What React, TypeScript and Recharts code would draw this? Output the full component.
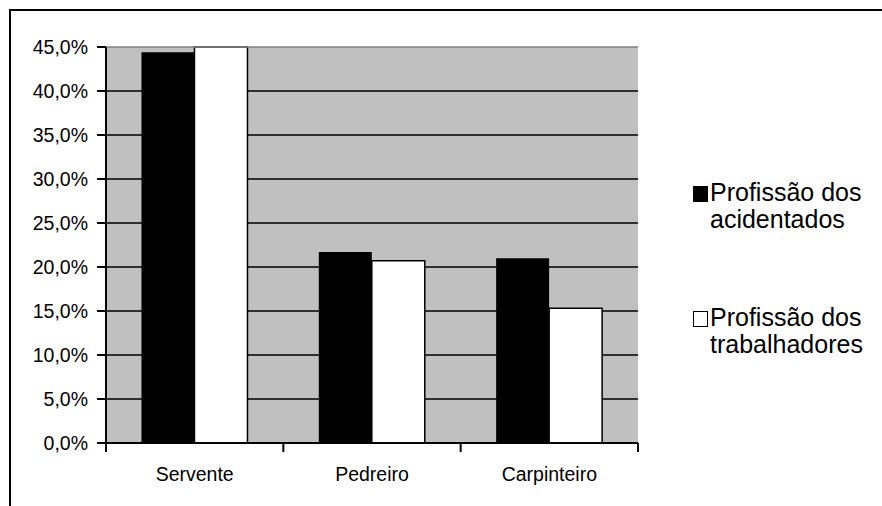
import { BarChart, Bar, XAxis, YAxis, CartesianGrid, Legend, ReferenceLine } from 'recharts'

const categories = ['Servente', 'Pedreiro', 'Carpinteiro']
const acidentados = [44.4, 21.7, 21.0]
const trabalhadores = [45.0, 20.7, 15.3]
const yTicks = [0, 5, 10, 15, 20, 25, 30, 35, 40, 45]
const seriesNames = ['Profissão dos acidentados', 'Profissão dos trabalhadores']

const W = 882, H = 506
const ML = 106, MR = 244, MT = 47, MB = 63
const BAND = (W - ML - MR) / categories.length
const FONT = '"Liberation Sans", Arial, sans-serif'

const data = categories.map((c, i) => ({ name: c, a: acidentados[i], t: trabalhadores[i] }))

const fmt = (v: number) => v.toFixed(1).replace('.', ',') + '%'

function XTick(props: any) {
  const { x, y, payload, index } = props
  const half = BAND / 2
  return (
    <g>
      <line x1={x - half} x2={x - half} y1={y} y2={y + 9} stroke="#000" strokeWidth={2} />
      {index === categories.length - 1 && (
        <line x1={x + half} x2={x + half} y1={y} y2={y + 9} stroke="#000" strokeWidth={2} />
      )}
      <text x={x} y={y + 38} textAnchor="middle" fontSize={19.5} fontFamily={FONT} fill="#000">{payload.value}</text>
    </g>
  )
}

function LegendBox() {
  const items = [
    { lines: ['Profissão dos', 'acidentados'], fill: '#000', top: 179 },
    { lines: ['Profissão dos', 'trabalhadores'], fill: '#fff', top: 304 },
  ]
  return (
    <div>
      {items.map((it, i) => (
        <div key={i} style={{ position: 'absolute', left: 693, top: it.top, fontFamily: FONT, fontSize: 25, lineHeight: '27px', color: '#000' }}>
          <div style={{ position: 'absolute', left: 0, top: 7, width: 13, height: 14, background: it.fill, border: '1px solid #000' }} title={seriesNames[i]} />
          <div style={{ position: 'absolute', left: 17, top: 0, whiteSpace: 'nowrap' }}>
            {it.lines.map((l, j) => <div key={j}>{l}</div>)}
          </div>
        </div>
      ))}
    </div>
  )
}

export default function App() {
  return (
    <div style={{ position: 'absolute', left: 0, top: 0, width: W, height: H, overflow: 'hidden', background: '#fff' }}>
      <div style={{ position: 'absolute', left: 9, top: 9, width: 900, height: 600, border: '2px solid #000' }} />
      <BarChart width={W} height={H} data={data} margin={{ top: MT, right: MR, bottom: 0, left: 0 }}
        barCategoryGap="20%" barGap={0} style={{ position: 'absolute', left: 0, top: 0 }}>
        <CartesianGrid vertical={false} stroke="#000" strokeWidth={1.5} fill="#C0C0C0" fillOpacity={1}
          horizontalValues={yTicks.slice(1, -1)} yAxisId="left" />
        <XAxis dataKey="name" height={MB} axisLine={{ stroke: '#000', strokeWidth: 2 }} tickLine={false}
          tickSize={0} tickMargin={0} tick={<XTick />} interval={0} />
        <YAxis yAxisId="left" width={ML} domain={[0, 45]} ticks={yTicks} tickFormatter={fmt}
          axisLine={{ stroke: '#000', strokeWidth: 2 }} tickLine={{ stroke: '#000', strokeWidth: 2 }}
          tickSize={9} tickMargin={9} tick={{ fill: '#000', fontSize: 19.5, fontFamily: FONT }} />
        <YAxis yAxisId="right" orientation="right" width={0} domain={[0, 45]} tick={false} tickLine={false}
          axisLine={{ stroke: '#808080', strokeWidth: 1.5 }} />
        <ReferenceLine yAxisId="left" y={45} stroke="#808080" strokeWidth={1.5} />
        <Bar yAxisId="left" dataKey="a" name={seriesNames[0]} fill="#000" isAnimationActive={false} />
        <Bar yAxisId="left" dataKey="t" name={seriesNames[1]} fill="#fff" stroke="#000" strokeWidth={1.5} isAnimationActive={false} />
        <Legend content={<LegendBox />} wrapperStyle={{ position: 'absolute', left: 0, top: 0, width: 0, height: 0 }} />
      </BarChart>
    </div>
  )
}
